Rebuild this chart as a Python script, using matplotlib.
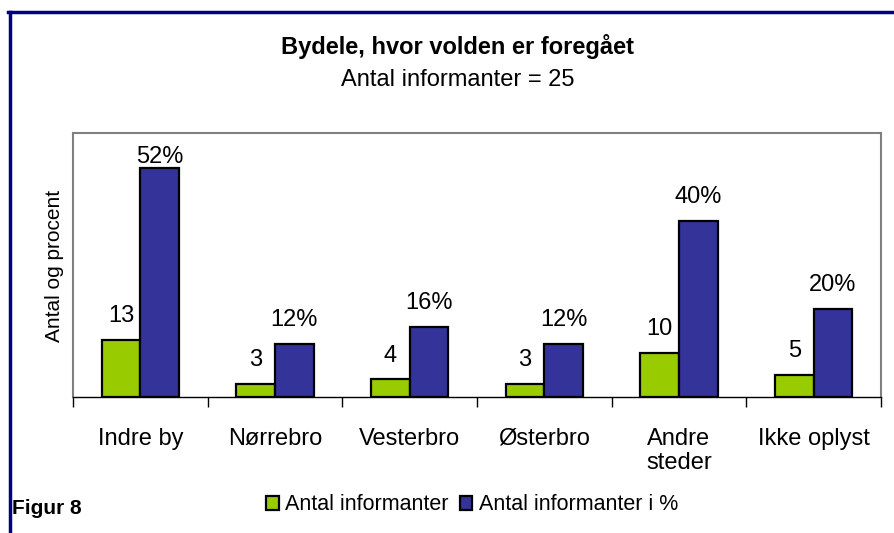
import matplotlib
matplotlib.use('Agg')
import matplotlib.pyplot as plt
from matplotlib.lines import Line2D
import numpy as np

plt.rcParams['font.family'] = ['Liberation Sans', 'DejaVu Sans']

kategorier = ['Indre by', 'Nørrebro', 'Vesterbro', 'Østerbro', 'Andre\nsteder', 'Ikke oplyst']
antal = [13, 3, 4, 3, 10, 5]
procent = [52, 12, 16, 12, 40, 20]

gron = '#99CC00'
bla = '#333399'
graa = '#808080'

W, H = 894, 533
fig = plt.figure(figsize=(W / 100, H / 100), dpi=100)
ax = fig.add_axes([73 / W, 1 - 397 / H, (881 - 73) / W, (397 - 133) / H])

x = np.arange(len(kategorier))
b = 0.286
ax.bar(x - b / 2, antal, b, color=gron, edgecolor='black', linewidth=1.6,
       label='Antal informanter', zorder=3)
ax.bar(x + b / 2, procent, b, color=bla, edgecolor='black', linewidth=1.6,
       label='Antal informanter i %', zorder=3)

ax.set_xlim(-0.5, len(kategorier) - 0.5)
ax.set_ylim(0, 60)

# dataetiketter, holdes inden for plotomraadet
for i in range(len(kategorier)):
    ax.text(x[i] - b / 2, min(antal[i] + 5.4, 54.5), str(antal[i]),
            ha='center', va='center', fontsize=17)
    ax.text(x[i] + b / 2, min(procent[i] + 5.4, 54.5), '%d%%' % procent[i],
            ha='center', va='center', fontsize=17)

ax.set_yticks([])
ax.set_xticks(np.arange(-0.5, len(kategorier), 1.0))
ax.set_xticklabels([])
ax.tick_params(axis='x', which='major', length=7, color='black', width=1)
ax.set_xticks(x, minor=True)
ax.set_xticklabels(kategorier, minor=True, fontsize=17, linespacing=1.12)
ax.tick_params(axis='x', which='minor', length=0, pad=22)

for s in ['left', 'top', 'right']:
    ax.spines[s].set_color(graa)
    ax.spines[s].set_linewidth(1.5)
ax.spines['bottom'].set_color('black')
ax.spines['bottom'].set_linewidth(1)

fig.text(458 / W, 1 - 54 / H, 'Bydele, hvor volden er foregået', ha='center',
         va='baseline', fontsize=17, fontweight='bold')
fig.text(458 / W, 1 - 86 / H, 'Antal informanter = 25', ha='center',
         va='baseline', fontsize=17)
fig.text(55 / W, 1 - 266 / H, 'Antal og procent', rotation=90, ha='center',
         va='center', fontsize=15)
fig.text(12 / W, 1 - 514 / H, 'Figur 8', ha='left', va='baseline',
         fontsize=15, fontweight='bold')

fig.legend(loc='center', bbox_to_anchor=(472 / W, 1 - 505 / H), ncol=2,
           frameon=False, fontsize=15.5, handlelength=0.6, handleheight=0.6,
           handletextpad=0.3, columnspacing=0.5, borderpad=0)

# navy ramme (kun venstre og top synlig)
fig.add_artist(Line2D([9.5 / W, 9.5 / W], [0, 1 - 11.5 / H], color='#000080',
                      linewidth=2.5, transform=fig.transFigure))
fig.add_artist(Line2D([8.3 / W, 1], [1 - 11.5 / H, 1 - 11.5 / H], color='#000080',
                      linewidth=2.5, transform=fig.transFigure))

plt.savefig('out.png', dpi=100)
plt.close()
